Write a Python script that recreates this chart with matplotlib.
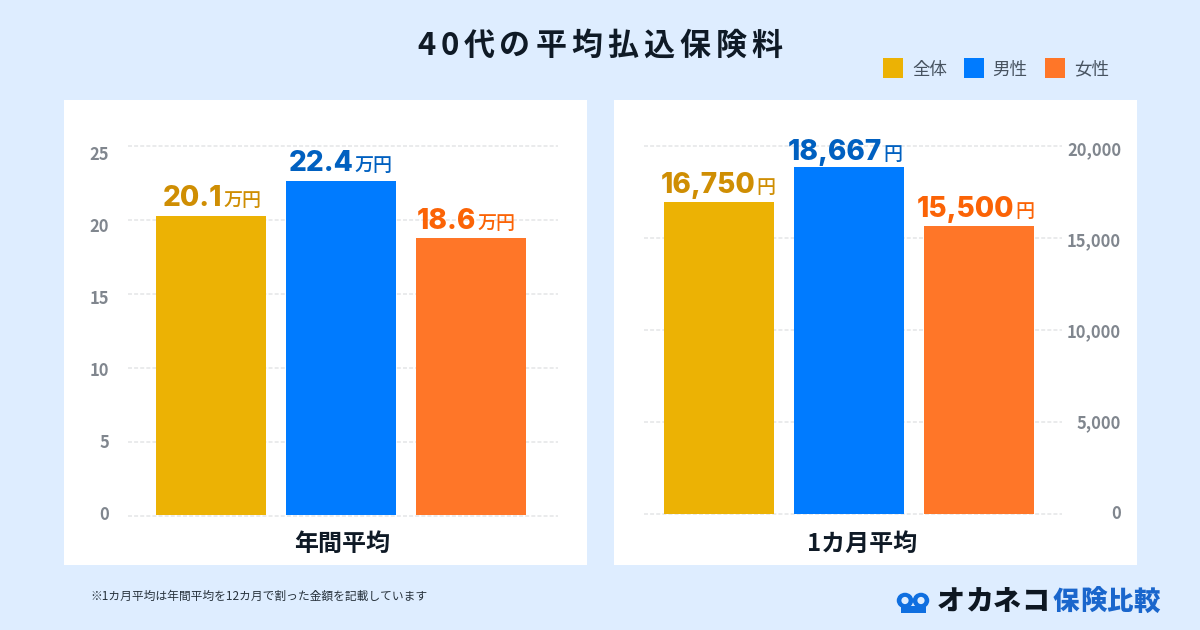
import matplotlib
matplotlib.use("Agg")
import matplotlib.pyplot as plt
from matplotlib.patches import Rectangle, Circle, Ellipse
from matplotlib.transforms import Affine2D

plt.rcParams['font.family'] = ['Noto Sans CJK JP', 'DejaVu Sans']

TITLE = "40代の平均払込保険料"
SERIES = ["全体", "男性", "女性"]
ANNUAL = [20.1, 22.4, 18.6]
MONTHLY = [16750, 18667, 15500]
ANNUAL_LABELS = ["20.1", "22.4", "18.6"]
MONTHLY_LABELS = ["16,750", "18,667", "15,500"]
ANNUAL_TICKS = [0, 5, 10, 15, 20, 25]
MONTHLY_TICKS = [0, 5000, 10000, 15000, 20000]
MONTHLY_TICK_LABELS = ["0", "5,000", "10,000", "15,000", "20,000"]
NOTE = "※1カ月平均は年間平均を12カ月で割った金額を記載しています"

BG = "#DEEDFF"
BAR_COLORS = ["#ECB204", "#007BFF", "#FF7628"]
VALUE_COLORS = ["#CF8E03", "#0060C0", "#FB6306"]
INK = "#0F1A26"
W, H = 1200, 630

fig = plt.figure(figsize=(12, 6.3), dpi=100, facecolor=BG)
px = Affine2D().scale(1 / W, -1 / H).translate(0, 1) + fig.transFigure


def rect(x, y, w, h, color, zorder=1):
    fig.add_artist(Rectangle((x, y), w, h, transform=px, facecolor=color, edgecolor="none", zorder=zorder))


def label(x, y, s, size, **kw):
    kw.setdefault("ha", "center")
    kw.setdefault("va", "center")
    return fig.text(x, y, s, transform=px, fontsize=size * 0.72, **kw)


def scaled_axes(x0, x1, zero_px, per_unit, top=100, bottom=565):
    """Axes on a pixel box whose y scale puts 0 at zero_px."""
    ax = fig.add_axes([x0 / W, 1 - bottom / H, (x1 - x0) / W, (bottom - top) / H])
    ax.set_ylim((zero_px - bottom) / per_unit, (zero_px - top) / per_unit)
    ax.patch.set_alpha(0)
    for s in ax.spines.values():
        s.set_visible(False)
    ax.set_xticks([])
    return ax


def panel(panel_x, grid_x, grid_zero, grid_scale, bar_centre0, bar_zero, bar_scale,
          label_x, label_zero, label_scale, ticks, tick_labels, values, texts, unit, title,
          nudges):
    rect(panel_x, 100, 523, 465, "white", zorder=-1)
    # gridlines
    g = scaled_axes(grid_x[0], grid_x[1], grid_zero, grid_scale)
    g.set_yticks(ticks)
    g.tick_params(left=False, labelleft=False)
    g.yaxis.grid(True, color="#E4E5E7", linewidth=1.1, linestyle=(0, (2.6, 1.4)))
    g.set_axisbelow(True)
    # tick labels
    t = scaled_axes(label_x, label_x + 10, label_zero, label_scale)
    t.set_yticks(ticks)
    t.set_yticklabels(tick_labels, fontsize=16.5 * 0.72, fontweight="bold", color="#80868E")
    t.tick_params(length=0, pad=0)
    # bars
    a = scaled_axes(grid_x[0], grid_x[1], bar_zero, bar_scale)
    step = 130
    a.set_xlim(-(bar_centre0 - grid_x[0]) / step, (grid_x[1] - bar_centre0) / step)
    a.bar(range(len(values)), values, width=110 / step, color=BAR_COLORS)
    a.set_xticks([])
    a.set_yticks([])
    # value labels: number + unit centred together over each bar
    renderer = fig.canvas.get_renderer()
    for i, (v, s) in enumerate(zip(values, texts)):
        dx, dy = nudges[i]
        n = a.annotate(s, xy=(i, v), xytext=(0, dy), textcoords="offset pixels", ha="left",
                       va="baseline", fontsize=28 * 0.72, fontweight=800, color=VALUE_COLORS[i],
                       family=["Inter", "DejaVu Sans"])
        u = a.annotate(unit, xy=(i, v), xytext=(0, dy), textcoords="offset pixels", ha="left",
                       va="baseline", fontsize=19 * 0.72, fontweight="medium", color=VALUE_COLORS[i])
        w1 = n.get_window_extent(renderer).width
        w2 = u.get_window_extent(renderer).width
        gap = 1
        total = w1 + gap + w2
        n.set_position((dx - total / 2, dy))
        u.set_position((dx - total / 2 + w1 + gap, dy))
    label(title[1], 544, title[0], 24, fontweight="bold", color=INK)


def spaced(cx, y, s, size, spacing, **kw):
    adv = [size * (0.58 if c.isascii() else 1.0) + spacing for c in s]
    x = cx - (sum(adv) - spacing) / 2
    for c, d in zip(s, adv):
        label(x + (d - spacing) / 2, y, c, size, **kw)
        x += d


panel(64, (128, 558), 516, 14.8, 211, 515, 14.9, 109, 513, 14.4,
      ANNUAL_TICKS, [str(v) for v in ANNUAL_TICKS], ANNUAL, ANNUAL_LABELS, "万円", ("年間平均", 342),
      [(1, 10), (0, 10), (-5, 9)])
panel(614, (644, 1062), 514, 0.0184, 719, 513.5, 0.01858, 1121, 512.3, 0.0182,
      MONTHLY_TICKS, MONTHLY_TICK_LABELS, MONTHLY, MONTHLY_LABELS, "円", ("1カ月平均", 862),
      [(-0.5, 9), (-4, 6.5), (-3.5, 9)])

# title
spaced(600, 46, TITLE, 31, 5, fontweight="bold", color=INK)

# legend
for name, color, sx, tx in zip(SERIES, BAR_COLORS, (883, 964, 1045), (929.5, 1010, 1091.5)):
    rect(sx, 58, 20, 20, color)
    label(tx, 69.5, name, 17.5, color="#475360")

# footnote
label(90, 596.5, NOTE, 11.8, ha="left", color="#27323C")

# logo
BLUE = "#0F6FE0"
for cx in (905, 921):
    fig.add_artist(Ellipse((cx, 600.5), 16.5, 15.5, transform=px, facecolor=BLUE, edgecolor="none"))
fig.add_artist(Rectangle((901, 606), 25, 6.5, transform=px, facecolor=BLUE, edgecolor="none"))
for cx in (905, 921):
    fig.add_artist(Circle((cx, 600.5), 3.6, transform=px, facecolor=BG, edgecolor="none"))
spaced(993, 602, "オカネコ", 28, 0, fontweight=900, color="#0D1722")
spaced(1106.5, 602, "保険比較", 26.5, 0.5, fontweight=900, color="#1A66CC")

fig.savefig("out.png", dpi=100, facecolor=BG)
